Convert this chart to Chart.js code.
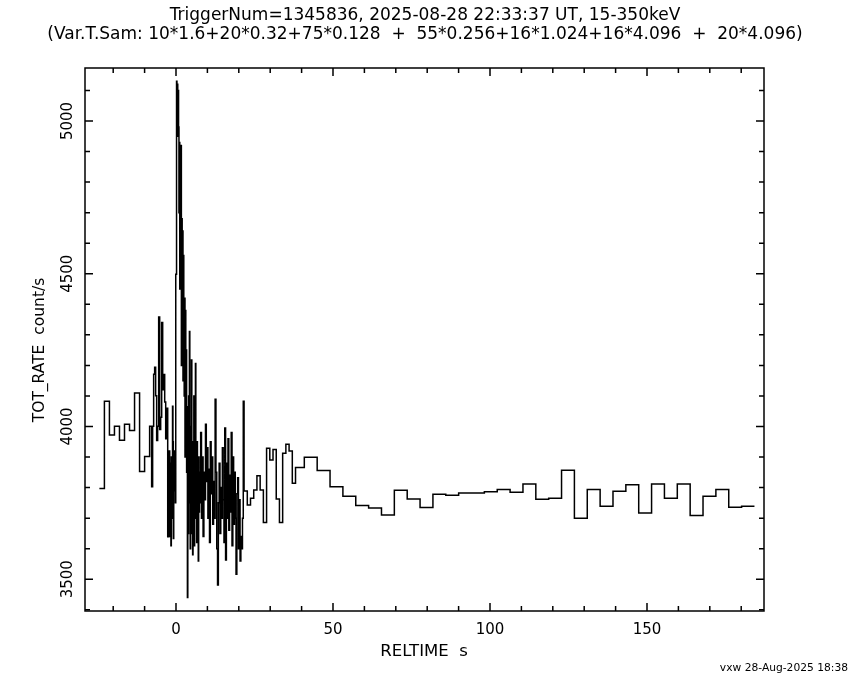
<!DOCTYPE html>
<html>
<head>
<meta charset="utf-8">
<title>TOT_RATE light curve</title>
<script src="https://cdn.jsdelivr.net/npm/chart.js@4.4.1/dist/chart.umd.min.js"></script>
<style>
  html, body { margin: 0; padding: 0; background: #fff; }
  #wrap { width: 850px; height: 680px; }
</style>
</head>
<body>
<div id="wrap"><canvas id="lc" width="850" height="680"></canvas></div>
<script>
(function() {
  'use strict';

  var FONT = "'DejaVu Sans', sans-serif";

  // Bin widths (s) in time order, from the header line. The 2.8 s bin is the
  // short first coarse bin as it shows on the plot.
  var binWidths = [1.6, 0.32, 0.128, 0.256, 1.024, 2.8, 4.096];
  var tStart = -24.4;

  // count/s per bin
  var rate1600 = [3797, 4083, 3972, 4001, 3955, 4007, 3987, 4110, 3853, 3902];
  var rate320 = [4001, 4001, 3803, 4001, 4171, 4194, 4101, 3954, 4001, 4358,
                 3990, 4030, 4340, 4120, 4170, 4080, 3960, 4060, 3639, 3920];
  var rate128 = [3640, 3880, 3760, 3610, 3900, 3700, 3820, 4066, 3950, 3633,
                 3850, 3790, 3920, 3880, 3750, 4498, 4498, 5130, 4990, 5120,
                 4950, 5100, 4980, 4700, 4930, 4450, 4900, 4650, 4920, 4200,
                 4680, 4300, 4640, 4150, 4560, 4400, 4100, 4420, 3900, 4380,
                 4050, 4250, 3850, 4065, 3440, 3900, 3650, 4100, 3750, 4311,
                 3800, 3600, 4000, 3700, 4218, 3650, 3880, 3580, 3950, 3720,
                 4100, 3610, 3900, 3760, 4206, 3700, 3850, 3620, 3950, 3680,
                 3800, 3560, 3900, 3720, 3850];
  var rate256 = [3750, 3980, 3700, 3900, 3640, 3850, 3760, 4007, 3820, 3930,
                 3700, 3860, 3620, 3950, 3780, 3900, 3680, 3820, 3700, 4089,
                 3850, 3600, 3481, 3750, 3880, 3650, 3800, 3700, 3930, 3760,
                 3620, 3995, 3563, 3880, 3700, 3960, 3660, 3840, 3720, 3980,
                 3610, 3900, 3680, 3850, 3700, 3516, 3780, 3832, 3600, 3760,
                 3560, 3640, 3600, 3700, 4083];
  var rate1024 = [3789, 3743, 3765, 3792, 3839, 3792, 3686, 3929, 3890, 3925,
                  3763, 3686, 3912, 3942, 3920, 3814];
  var rateShort = [3866];
  var rate4096 = [3899, 3856, 3803, 3772, 3741, 3733, 3710, 3791, 3763, 3735,
                  3778, 3775, 3782, 3782, 3786, 3794, 3785, 3812, 3762, 3765,
                  3857, 3700, 3794, 3739, 3788, 3809, 3717, 3812, 3765, 3812,
                  3709, 3772, 3794, 3736, 3739];
  var rateSets = [rate1600, rate320, rate128, rate256, rate1024, rateShort, rate4096];

  var xMajor = [0, 50, 100, 150];
  var yMajor = [3500, 4000, 4500, 5000];
  var xRange = [-28.98, 187.26];
  var yRange = [3396, 5173.5];

  var titleLines = [
    'TriggerNum=1345836, 2025-08-28 22:33:37 UT, 15-350keV',
    '(Var.T.Sam: 10*1.6+20*0.32+75*0.128  +  55*0.256+16*1.024+16*4.096  +  20*4.096)'
  ];
  var xTitle = 'RELTIME  s';
  var yTitle = 'TOT_RATE  count/s';
  var stamp = 'vxw 28-Aug-2025 18:38';

  /** Bin start points plus a closing point, for a stepped line. */
  function buildSteps() {
    var pts = [], t = tStart;
    for (var s = 0; s < rateSets.length; s++) {
      for (var i = 0; i < rateSets[s].length; i++) {
        pts.push({ x: t, y: rateSets[s][i] });
        t += binWidths[s];
      }
    }
    pts.push({ x: t, y: pts[pts.length - 1].y });
    return pts;
  }

  // Box frame with inward ticks and all the text, drawn from the chart scales.
  var framePlugin = {
    id: 'qdpFrame',
    afterDraw: function(chart) {
      var ctx = chart.ctx, a = chart.chartArea;
      var xs = chart.scales.x, ys = chart.scales.y;
      var v, p, len;
      ctx.save();
      ctx.strokeStyle = '#000';
      ctx.fillStyle = '#000';
      ctx.lineWidth = 1.5;
      ctx.strokeRect(a.left, a.top, a.right - a.left, a.bottom - a.top);

      ctx.beginPath();
      for (v = -20; v <= 180; v += 10) {
        p = xs.getPixelForValue(v);
        len = v % 50 === 0 ? 8 : 5;
        ctx.moveTo(p, a.bottom); ctx.lineTo(p, a.bottom - len);
        ctx.moveTo(p, a.top); ctx.lineTo(p, a.top + len);
      }
      for (v = 3400; v <= 5100; v += 100) {
        p = ys.getPixelForValue(v);
        len = v % 500 === 0 ? 8 : 5;
        ctx.moveTo(a.left, p); ctx.lineTo(a.left + len, p);
        ctx.moveTo(a.right, p); ctx.lineTo(a.right - len, p);
      }
      ctx.stroke();

      ctx.textAlign = 'center';
      ctx.textBaseline = 'alphabetic';
      ctx.font = '17px ' + FONT;
      ctx.fillText(titleLines[0], 425, 20);
      ctx.fillText(titleLines[1], 425, 39);

      ctx.font = '15px ' + FONT;
      xMajor.forEach(function(t) {
        ctx.fillText(String(t), xs.getPixelForValue(t), 634);
      });
      ctx.font = '16.5px ' + FONT;
      ctx.fillText(xTitle, 424, 656);

      ctx.textBaseline = 'middle';
      ctx.font = '15px ' + FONT;
      yMajor.forEach(function(t) {
        ctx.save();
        ctx.translate(68, ys.getPixelForValue(t));
        ctx.rotate(-Math.PI / 2);
        ctx.fillText(String(t), 0, 0);
        ctx.restore();
      });
      ctx.save();
      ctx.translate(40, 350);
      ctx.rotate(-Math.PI / 2);
      ctx.font = '15.5px ' + FONT;
      ctx.fillText(yTitle, 0, 0);
      ctx.restore();

      ctx.textAlign = 'right';
      ctx.font = '10.7px ' + FONT;
      ctx.fillText(stamp, 848, 668);
      ctx.restore();
    }
  };

  new Chart(document.getElementById('lc'), {
    type: 'line',
    data: {
      datasets: [{
        data: buildSteps(),
        stepped: true,
        borderColor: '#000',
        borderWidth: 1.5,
        pointRadius: 0,
        fill: false
      }]
    },
    options: {
      responsive: false,
      animation: false,
      devicePixelRatio: 1,
      layout: { padding: { left: 85, top: 68, right: 86, bottom: 69 } },
      plugins: { legend: { display: false }, tooltip: { enabled: false } },
      scales: {
        x: { type: 'linear', display: false, min: xRange[0], max: xRange[1] },
        y: { type: 'linear', display: false, min: yRange[0], max: yRange[1] }
      }
    },
    plugins: [framePlugin]
  });
})();
</script>
</body>
</html>
